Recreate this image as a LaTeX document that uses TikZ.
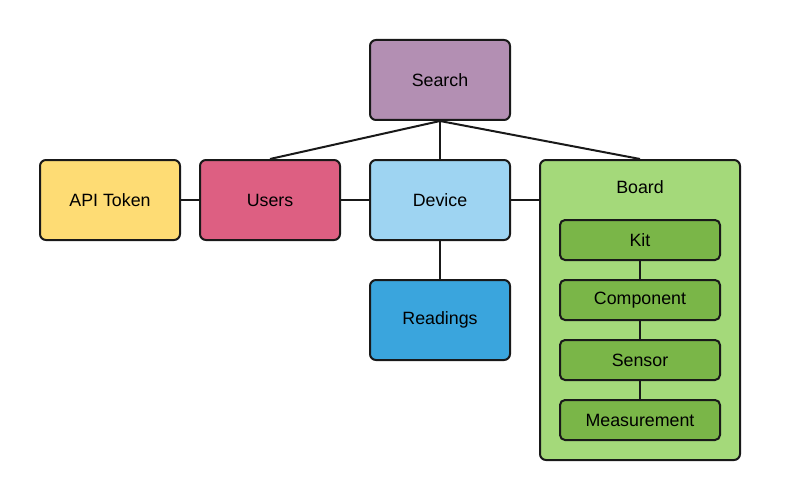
\documentclass[tikz,border=0pt]{standalone}
\usepackage{fontspec}
\setmainfont{Liberation Sans}
\usepackage{xcolor}
\definecolor{searchcol}{HTML}{B38FB3}
\definecolor{tokencol}{HTML}{FEDC74}
\definecolor{userscol}{HTML}{DD5F82}
\definecolor{devicecol}{HTML}{9ED4F2}
\definecolor{readcol}{HTML}{3AA5DD}
\definecolor{boardcol}{HTML}{A4D97A}
\definecolor{kitcol}{HTML}{7AB648}
\begin{document}
\begin{tikzpicture}[x=1pt,y=-1pt,
    every node/.style={font=\fontsize{17.8}{20}\selectfont},
    box/.style={draw=black!90, line width=2pt, rounded corners=6pt, minimum width=140pt, minimum height=80pt, inner sep=0pt},
    part/.style={draw=black!90, line width=2pt, rounded corners=5pt, fill=kitcol, minimum width=160pt, minimum height=40pt, inner sep=0pt},
    link/.style={line width=2pt, black!90}]
   \useasboundingbox (0,0) rectangle (800,500);
   % boxes
   \node[box, fill=searchcol] (search) at (440,80) {Search};
   \node[box, fill=tokencol] (token) at (110,200) {API Token};
   \node[box, fill=userscol] (users) at (270,200) {Users};
   \node[box, fill=devicecol] (device) at (440,200) {Device};
   \node[box, fill=readcol] (readings) at (440,320) {Readings};
   \node[box, fill=boardcol, minimum width=200pt, minimum height=300pt] (board) at (640,310) {};
   \node (boardlabel) at (640,187) {Board};
   \node[part] (kit) at (640,240) {Kit};
   \node[part] (component) at (640,300) {Component};
   \node[part] (sensor) at (640,360) {Sensor};
   \node[part] (measurement) at (640,420) {Measurement};
   % links
   \draw[link] (search.south) -- (users.north);
   \draw[link] (search.south) -- (device.north);
   \draw[link] (search.south) -- (board.north);
   \draw[link] (token) -- (users);
   \draw[link] (users) -- (device);
   \draw[link] (device) -- (board.west |- device);
   \draw[link] (device) -- (readings);
   \draw[link] (kit) -- (component);
   \draw[link] (component) -- (sensor);
   \draw[link] (sensor) -- (measurement);
\end{tikzpicture}
\end{document}
